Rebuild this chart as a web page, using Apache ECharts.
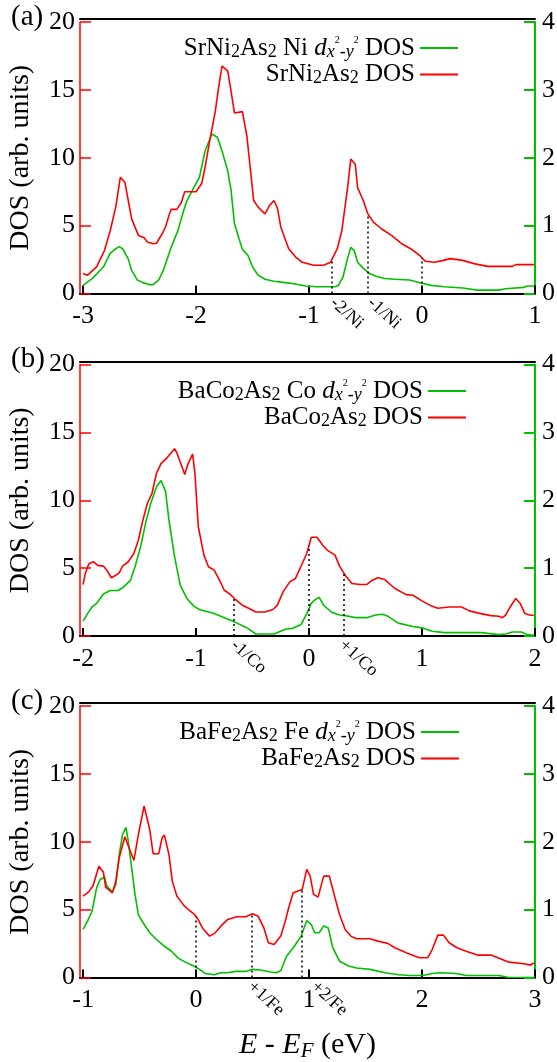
<!DOCTYPE html>
<html>
<head>
<meta charset="utf-8">
<script src="https://cdn.jsdelivr.net/npm/echarts@6/dist/echarts.min.js"></script>
<style>
  html, body { margin: 0; padding: 0; background: #ffffff; }
  #chart { width: 557px; height: 1062px; }
</style>
</head>
<body>
<div id="chart"></div>
<script>
// ---------- (a) SrNi2As2 ----------
const srNiTotalE = [-3.00,-2.96,-2.88,-2.81,-2.76,-2.71,-2.67,-2.63,-2.60,-2.57,-2.51,-2.46,-2.43,-2.38,-2.35,-2.30,-2.27,-2.24,-2.22,-2.17,-2.13,-2.10,-2.00,-1.95,-1.92,-1.88,-1.83,-1.80,-1.77,-1.72,-1.69,-1.66,-1.59,-1.55,-1.49,-1.45,-1.39,-1.35,-1.31,-1.28,-1.25,-1.18,-1.12,-1.06,-0.96,-0.87,-0.81,-0.75,-0.71,-0.66,-0.63,-0.59,-0.57,-0.52,-0.48,-0.43,-0.36,-0.27,-0.18,-0.10,-0.02,0.03,0.11,0.19,0.25,0.36,0.46,0.58,0.80,0.83,0.99];
const srNiTotal = [1.47,1.35,1.96,3.18,4.6,6.4,8.56,8.2,6.85,5.5,4.28,4.1,3.8,3.67,3.7,4.4,4.9,5.75,6.2,6.2,6.7,7.5,7.5,8.1,9.3,11.2,13.4,15.2,16.75,16.4,14.9,13.3,13.4,11.6,6.85,6.36,5.87,6.48,6.85,6.3,4.9,3.3,2.7,2.3,2.08,2.08,2.3,3.3,4.6,7.7,9.9,9.5,7.8,6.85,5.87,5.26,4.77,4.28,3.67,3.3,2.8,2.37,2.3,2.44,2.57,2.44,2.2,2.0,2.0,2.13,2.13];
const srNiDxyE = [-3.00,-2.92,-2.82,-2.76,-2.71,-2.68,-2.65,-2.60,-2.57,-2.52,-2.47,-2.41,-2.38,-2.33,-2.29,-2.22,-2.16,-2.11,-2.08,-2.02,-1.97,-1.92,-1.86,-1.81,-1.77,-1.72,-1.69,-1.66,-1.62,-1.59,-1.54,-1.50,-1.45,-1.39,-1.31,-1.21,-1.12,-1.03,-0.93,-0.77,-0.74,-0.70,-0.66,-0.63,-0.60,-0.57,-0.52,-0.46,-0.40,-0.33,-0.24,-0.11,0.00,0.08,0.20,0.36,0.49,0.68,0.74,0.90,0.93,0.99];
const srNiDxy = [0.12,0.22,0.39,0.59,0.66,0.69,0.66,0.51,0.34,0.2,0.16,0.13,0.13,0.2,0.34,0.68,0.93,1.22,1.37,1.56,1.71,2.10,2.35,2.30,2.10,1.81,1.52,1.03,0.81,0.65,0.56,0.39,0.27,0.21,0.18,0.16,0.14,0.11,0.10,0.10,0.12,0.24,0.51,0.68,0.63,0.46,0.37,0.29,0.25,0.22,0.21,0.2,0.15,0.12,0.10,0.08,0.05,0.05,0.07,0.09,0.11,0.11];
const srNiTicks = [-3, -2, -1, 0, 1];
const srNiFillings = [-0.80, -0.48, 0];
const srNiFillingLabels = ['-2/Ni', '-1/Ni', ''];
const srNiLabelAt = [-0.79, -0.46, 0];

// ---------- (b) BaCo2As2 ----------
const baCoTotalE = [-2.00,-1.98,-1.95,-1.91,-1.87,-1.82,-1.79,-1.75,-1.71,-1.68,-1.65,-1.60,-1.55,-1.51,-1.47,-1.43,-1.39,-1.35,-1.31,-1.26,-1.22,-1.19,-1.17,-1.13,-1.10,-1.07,-1.03,-1.01,-0.98,-0.93,-0.89,-0.84,-0.80,-0.75,-0.70,-0.66,-0.59,-0.53,-0.47,-0.39,-0.32,-0.28,-0.23,-0.17,-0.12,-0.06,-0.02,0.02,0.07,0.12,0.16,0.23,0.27,0.32,0.38,0.45,0.51,0.56,0.61,0.67,0.76,0.86,0.92,1.00,1.08,1.14,1.24,1.35,1.42,1.52,1.61,1.68,1.71,1.74,1.78,1.83,1.87,1.91,1.96,1.99];
const baCoTotal = [3.79,4.6,5.3,5.47,5.2,5.15,4.85,4.29,4.48,4.65,5.15,5.47,6.08,7.07,8.55,9.78,10.5,12.0,12.7,13.1,13.5,13.8,13.5,12.6,11.9,12.7,13.4,12.0,8.05,5.96,5.1,4.85,4.24,3.37,3.08,2.76,2.27,2.02,1.77,1.77,1.95,2.27,3.25,3.99,4.24,5.34,6.08,7.27,7.27,6.7,6.33,5.96,5.15,4.48,3.87,3.79,3.79,4.11,4.29,4.16,3.5,3.05,3.0,2.59,2.22,2.04,2.14,2.14,1.85,1.65,1.5,1.45,1.35,1.53,2.14,2.76,2.39,1.65,1.53,1.53];
const baCoDxyE = [-2.00,-1.96,-1.92,-1.88,-1.82,-1.76,-1.69,-1.65,-1.58,-1.54,-1.49,-1.44,-1.40,-1.35,-1.31,-1.27,-1.24,-1.19,-1.14,-1.08,-1.02,-0.97,-0.84,-0.69,-0.56,-0.47,-0.31,-0.21,-0.15,-0.07,-0.02,0.02,0.05,0.09,0.13,0.20,0.27,0.32,0.42,0.51,0.59,0.65,0.70,0.79,0.92,1.00,1.09,1.20,1.52,1.68,1.74,1.80,1.88,1.93,1.99];
const baCoDxy = [0.22,0.33,0.43,0.48,0.62,0.67,0.67,0.71,0.82,1.02,1.32,1.71,1.96,2.2,2.29,2.13,1.71,1.17,0.75,0.55,0.44,0.39,0.33,0.23,0.13,0.03,0.03,0.10,0.11,0.17,0.33,0.48,0.53,0.57,0.45,0.35,0.31,0.30,0.27,0.27,0.31,0.32,0.29,0.19,0.14,0.12,0.07,0.05,0.05,0.02,0.03,0.06,0.06,0.02,0.01];
const baCoTicks = [-2, -1, 0, 1, 2];
const baCoFillings = [-0.67, 0, 0.31];
const baCoFillingLabels = ['-1/Co', '', '+1/Co'];
const baCoLabelAt = [-0.67, 0, 0.29];

// ---------- (c) BaFe2As2 ----------
const baFeTotalE = [-1.00,-0.95,-0.91,-0.86,-0.82,-0.80,-0.74,-0.71,-0.68,-0.63,-0.59,-0.55,-0.51,-0.46,-0.41,-0.38,-0.33,-0.30,-0.28,-0.24,-0.21,-0.17,-0.11,-0.07,-0.02,0.01,0.06,0.12,0.17,0.22,0.28,0.36,0.44,0.50,0.55,0.60,0.64,0.69,0.75,0.79,0.82,0.86,0.94,0.98,1.01,1.04,1.08,1.13,1.18,1.23,1.27,1.32,1.37,1.42,1.54,1.61,1.70,1.76,1.86,1.94,1.98,2.05,2.09,2.14,2.19,2.24,2.31,2.39,2.49,2.61,2.71,2.77,2.90,2.96,2.98,3.00];
const baFeTotal = [6.0,6.31,6.8,8.2,7.76,6.66,6.24,7.1,8.82,10.37,9.48,8.62,10.54,12.63,10.9,9.12,9.12,10.3,10.49,9.07,7.1,6.0,5.33,5.01,4.69,4.40,3.61,3.05,3.29,3.78,4.28,4.47,4.47,4.69,4.52,3.66,2.56,2.43,3.05,4.15,5.14,6.24,6.49,7.96,7.47,6.12,5.92,7.47,7.47,5.87,4.64,3.54,3.05,2.85,2.85,2.68,2.5,2.19,1.82,1.57,1.45,1.45,2.06,3.12,3.12,2.56,2.19,1.94,1.65,1.65,1.33,1.13,1.01,0.91,1.03,1.03];
const baFeDxyE = [-1.00,-0.96,-0.92,-0.88,-0.85,-0.81,-0.79,-0.74,-0.71,-0.68,-0.65,-0.62,-0.60,-0.57,-0.54,-0.51,-0.47,-0.41,-0.35,-0.28,-0.22,-0.16,-0.10,-0.02,0.03,0.08,0.16,0.22,0.28,0.35,0.44,0.50,0.57,0.66,0.71,0.75,0.80,0.87,0.93,0.98,1.02,1.05,1.09,1.13,1.17,1.21,1.27,1.35,1.42,1.54,1.67,1.79,1.89,2.01,2.09,2.17,2.30,2.39,2.68,2.77,2.99];
const baFeDxy = [0.71,0.83,0.98,1.32,1.44,1.48,1.35,1.26,1.37,1.81,2.11,2.21,2.01,1.62,1.22,0.92,0.81,0.66,0.56,0.46,0.39,0.29,0.23,0.17,0.12,0.06,0.04,0.07,0.07,0.09,0.09,0.12,0.11,0.08,0.07,0.10,0.31,0.46,0.61,0.84,0.78,0.66,0.66,0.76,0.73,0.44,0.24,0.17,0.14,0.12,0.07,0.04,0.03,0.03,0.06,0.07,0.06,0.03,0.03,0.0,0.0];
const baFeTicks = [-1, 0, 1, 2, 3];
const baFeFillings = [0, 0.49, 0.94];
const baFeFillingLabels = ['', '+1/Fe', '+2/Fe'];
const baFeLabelAt = [0, 0.48, 1.04];

// Shared axis ranges and tick labels
const totalTicks = [0, 5, 10, 15, 20];
const partialTicks = [0, 1, 2, 3, 4];

// ---------- styling ----------
const SERIF = '"Liberation Serif", "Times New Roman", Times, serif';
const RED = '#ff0000';
const GREEN = '#00c000';
const BLACK = '#000000';

const legendMarkup = {
  'SrNi2As2 Ni dx2-y2 DOS': '{m|SrNi}{s|2}{m|As}{s|2}{m| Ni }{i|d}{si|x}{p|2}{si|-y}{p|2}{m| DOS}',
  'SrNi2As2 DOS': '{m|SrNi}{s|2}{m|As}{s|2}{m| DOS}',
  'BaCo2As2 Co dx2-y2 DOS': '{m|BaCo}{s|2}{m|As}{s|2}{m| Co }{i|d}{si|x}{p|2}{si|-y}{p|2}{m| DOS}',
  'BaCo2As2 DOS': '{m|BaCo}{s|2}{m|As}{s|2}{m| DOS}',
  'BaFe2As2 Fe dx2-y2 DOS': '{m|BaFe}{s|2}{m|As}{s|2}{m| Fe }{i|d}{si|x}{p|2}{si|-y}{p|2}{m| DOS}',
  'BaFe2As2 DOS': '{m|BaFe}{s|2}{m|As}{s|2}{m| DOS}'
};

const legendRich = {
  m:  { fontFamily: SERIF, fontSize: 25, lineHeight: 26, color: BLACK },
  i:  { fontFamily: SERIF, fontSize: 25, lineHeight: 26, fontStyle: 'italic', color: BLACK },
  s:  { fontFamily: SERIF, fontSize: 18, lineHeight: 16, verticalAlign: 'bottom', color: BLACK },
  si: { fontFamily: SERIF, fontSize: 18, lineHeight: 16, fontStyle: 'italic', verticalAlign: 'bottom', color: BLACK },
  p:  { fontFamily: SERIF, fontSize: 10, lineHeight: 16, verticalAlign: 'top', color: BLACK }
};

const panels = [
  { tag: '(a)', top: 22, tagTop: 3, xMin: -3.027, xMax: 1, ticks: srNiTicks,
    totalE: srNiTotalE, total: srNiTotal, partE: srNiDxyE, part: srNiDxy,
    partName: 'SrNi2As2 Ni dx2-y2 DOS', totalName: 'SrNi2As2 DOS',
    fillings: srNiFillings, fillingLabels: srNiFillingLabels, labelAt: srNiLabelAt,
    legendRight: 99, legendTop: 35 },
  { tag: '(b)', top: 364.5, tagTop: 345, xMin: -2.027, xMax: 2, ticks: baCoTicks,
    totalE: baCoTotalE, total: baCoTotal, partE: baCoDxyE, part: baCoDxy,
    partName: 'BaCo2As2 Co dx2-y2 DOS', totalName: 'BaCo2As2 DOS',
    fillings: baCoFillings, fillingLabels: baCoFillingLabels, labelAt: baCoLabelAt,
    legendRight: 91, legendTop: 378 },
  { tag: '(c)', top: 706, tagTop: 687, xMin: -1.027, xMax: 3, ticks: baFeTicks,
    totalE: baFeTotalE, total: baFeTotal, partE: baFeDxyE, part: baFeDxy,
    partName: 'BaFe2As2 Fe dx2-y2 DOS', totalName: 'BaFe2As2 DOS',
    fillings: baFeFillings, fillingLabels: baFeFillingLabels, labelAt: baFeLabelAt,
    legendRight: 98, legendTop: 719, xName: true }
];

function pairs(E, V) {
  const n = Math.min(E.length, V.length);
  const out = [];
  for (let k = 0; k < n; k++) out.push([E[k], V[k]]);
  return out;
}

// Total DOS at energy e, linearly between sampled points
function valueAt(E, V, e) {
  for (let k = 1; k < E.length; k++) {
    if (e <= E[k]) {
      const t = (e - E[k - 1]) / (E[k] - E[k - 1]);
      return V[k - 1] + t * (V[k] - V[k - 1]);
    }
  }
  return V[V.length - 1];
}

const grid = [], xAxis = [], yAxis = [], series = [], legend = [], title = [];

panels.forEach((p, i) => {
  grid.push({ left: 80, width: 455, top: p.top, height: 271.5, containLabel: false, outerBoundsMode: 'none' });

  const xBase = xAxis.length;
  // energy axis with tick marks and numbers
  const mainX = {
    type: 'value', gridIndex: i, min: p.xMin, max: p.xMax, position: 'bottom',
    axisLine: { show: true, onZero: false, lineStyle: { color: BLACK, width: 2 } },
    axisTick: { show: true, inside: true, length: 8, customValues: p.ticks, lineStyle: { color: BLACK, width: 2 } },
    axisLabel: { show: true, customValues: p.ticks, margin: 10, color: BLACK, fontFamily: SERIF, fontSize: 26 },
    splitLine: { show: false }
  };
  if (p.xName) {
    mainX.name = '{i|E}{m| - }{i|E}{f|F}{m| (eV)}';
    mainX.nameLocation = 'middle';
    mainX.nameGap = 52;
    mainX.nameMoveOverlap = false;
    mainX.nameTextStyle = {
      color: BLACK, fontFamily: SERIF,
      rich: {
        m: { fontFamily: SERIF, fontSize: 30, lineHeight: 32, color: BLACK },
        i: { fontFamily: SERIF, fontSize: 30, lineHeight: 32, fontStyle: 'italic', color: BLACK },
        f: { fontFamily: SERIF, fontSize: 21, lineHeight: 14, fontStyle: 'italic', verticalAlign: 'bottom', color: BLACK }
      }
    };
  }
  xAxis.push(mainX);
  // rotated electron-count labels under the dotted markers
  const labelled = p.labelAt.filter((e, k) => p.fillingLabels[k] !== '');
  xAxis.push({
    type: 'value', gridIndex: i, min: p.xMin, max: p.xMax, position: 'bottom',
    axisLine: { show: false }, axisTick: { show: false }, splitLine: { show: false },
    axisLabel: {
      show: true, customValues: labelled, rotate: -42, margin: 7,
      color: BLACK, fontFamily: SERIF, fontSize: 18,
      formatter: (v) => {
        const k = p.labelAt.findIndex(e => Math.abs(e - v) < 1e-6);
        return k >= 0 ? p.fillingLabels[k] : '';
      }
    }
  });
  // upper frame line
  xAxis.push({
    type: 'value', gridIndex: i, min: p.xMin, max: p.xMax, position: 'top', offset: 3,
    axisLine: { show: true, onZero: false, lineStyle: { color: BLACK, width: 2 } },
    axisTick: { show: false }, axisLabel: { show: false }, splitLine: { show: false }
  });

  const yBase = yAxis.length;
  yAxis.push({
    type: 'value', gridIndex: i, min: totalTicks[0], max: totalTicks[totalTicks.length - 1],
    interval: totalTicks[1] - totalTicks[0], position: 'left',
    axisLine: { show: true, onZero: false, lineStyle: { color: RED, width: 1.5 } },
    axisTick: { show: true, inside: true, length: 11, lineStyle: { color: RED, width: 1.5 } },
    axisLabel: { margin: 5, color: BLACK, fontFamily: SERIF, fontSize: 26 },
    splitLine: { show: false },
    name: 'DOS (arb. units)', nameLocation: 'middle', nameRotate: 90, nameGap: 45,
    nameMoveOverlap: false,
    nameTextStyle: { color: BLACK, fontFamily: SERIF, fontSize: 28 }
  });
  yAxis.push({
    type: 'value', gridIndex: i, min: partialTicks[0], max: partialTicks[partialTicks.length - 1],
    interval: partialTicks[1] - partialTicks[0], position: 'right',
    axisLine: { show: true, onZero: false, lineStyle: { color: GREEN, width: 2 } },
    axisTick: { show: true, inside: true, length: 11, lineStyle: { color: GREEN, width: 2 } },
    axisLabel: { margin: 7, color: BLACK, fontFamily: SERIF, fontSize: 26 },
    splitLine: { show: false }
  });

  series.push({
    type: 'line', name: p.partName, xAxisIndex: xBase, yAxisIndex: yBase + 1,
    data: pairs(p.partE, p.part), symbol: 'none', showSymbol: false, z: 3,
    lineStyle: { color: GREEN, width: 1.6 }, itemStyle: { color: GREEN }
  });
  series.push({
    type: 'line', name: p.totalName, xAxisIndex: xBase, yAxisIndex: yBase,
    data: pairs(p.totalE, p.total), symbol: 'none', showSymbol: false, z: 4,
    lineStyle: { color: RED, width: 1.6 }, itemStyle: { color: RED },
    markLine: {
      silent: true, symbol: ['none', 'none'], animation: false,
      label: { show: false },
      lineStyle: { color: BLACK, width: 1.5, type: [2, 3] },
      data: p.fillings.map(e => [
        { coord: [e, 0] },
        { coord: [e, valueAt(p.totalE, p.total, e)] }
      ])
    }
  });

  legend.push({
    orient: 'vertical', right: p.legendRight, top: p.legendTop, align: 'right',
    padding: 0, itemGap: 1, itemWidth: 38, itemHeight: 2, selectedMode: false,
    icon: 'rect',
    data: [p.partName, p.totalName],
    formatter: (name) => legendMarkup[name] || name,
    textStyle: { fontFamily: SERIF, fontSize: 25, color: BLACK, rich: legendRich }
  });

  title.push({
    text: p.tag, left: 11, top: p.tagTop, padding: 0,
    textStyle: { fontFamily: SERIF, fontSize: 29, fontWeight: 'normal', color: BLACK }
  });
});

const chart = echarts.init(document.getElementById('chart'), null, { renderer: 'canvas' });
chart.setOption({
  backgroundColor: '#ffffff',
  animation: false,
  textStyle: { fontFamily: SERIF },
  title, legend, grid, xAxis, yAxis, series
});
</script>
</body>
</html>
